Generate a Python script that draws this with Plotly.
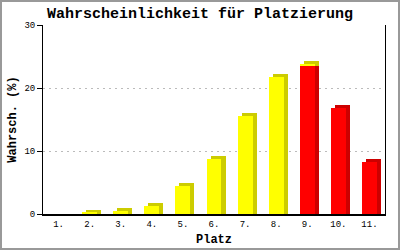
import plotly.graph_objects as go

# Data
plaetze = ["1.", "2.", "3.", "4.", "5.", "6.", "7.", "8.", "9.", "10.", "11."]
rot = [0, 0, 0, 0, 0, 0, 0, 0, 23.5, 16.8, 8.2]
gelb = [0, 0.2, 0.4, 1.2, 4.5, 8.8, 15.6, 21.8, 0.3, 0, 0]
y_ticks = [0, 10, 20, 30]

xs = list(range(1, len(plaetze) + 1))
W = 0.48          # bar width (data units)
DX = 0.13         # 3D depth offset x
DY = 0.48         # 3D depth offset y (%)

YEL, YEL_D = "#FFFF00", "#CCCC00"
RED, RED_D = "#FF0000", "#CC0000"

fig = go.Figure()

# 3D side/top faces (shadow bars)
fig.add_trace(go.Bar(
    x=[x + DX for x in xs], y=[r + DY if r > 0 else 0 for r in rot], base=0,
    width=W, marker=dict(color=RED_D, line=dict(width=0)), hoverinfo="skip", showlegend=False))
fig.add_trace(go.Bar(
    x=[x + DX for x in xs], y=[g + DY if g > 0 else 0 for g in gelb], base=rot,
    width=W, marker=dict(color=YEL_D, line=dict(width=0)), hoverinfo="skip", showlegend=False))
# front faces
fig.add_trace(go.Bar(
    x=xs, y=rot, base=0, width=W,
    marker=dict(color=RED, line=dict(width=0)), showlegend=False))
fig.add_trace(go.Bar(
    x=xs, y=gelb, base=rot, width=W,
    marker=dict(color=YEL, line=dict(width=0)), showlegend=False))

mono = "Liberation Mono, Courier New, monospace"

fig.update_layout(
    width=400, height=250,
    margin=dict(l=43, r=15, t=25, b=36),
    paper_bgcolor="white", plot_bgcolor="white",
    barmode="overlay", bargap=0,
    title=dict(text="<b>Wahrscheinlichkeit für Platzierung</b>",
               font=dict(family=mono, size=15, color="black"),
               x=0.5, xanchor="center", y=0.948, yanchor="middle"),
    xaxis=dict(range=[0.5, 11.5], tickvals=xs, ticktext=plaetze, automargin=False,
               showgrid=False, zeroline=False, showline=True, linecolor="black", linewidth=2,
               ticks="", tickfont=dict(family=mono, size=9, color="black"),
               title=dict(text="<b>Platz</b>", font=dict(family=mono, size=12, color="black"),
                          standoff=6), fixedrange=True),
    yaxis=dict(range=[0, 30], tickvals=y_ticks, automargin=False,
               showgrid=True, gridcolor="#BBBBBB", griddash="2px,4px", gridwidth=1,
               zeroline=False, showline=True, linecolor="black", linewidth=1, mirror=True,
               ticks="outside", ticklen=5, tickcolor="black",
               tickfont=dict(family=mono, size=9, color="black"),
               title=dict(text="<b>Wahrsch. (%)</b>", font=dict(family=mono, size=12, color="black"),
                          standoff=5), fixedrange=True),
    shapes=[dict(type="rect", xref="paper", yref="paper",
                 x0=-42 / 342, x1=1 + 14 / 342, y0=-35 / 189, y1=1 + 24 / 189,
                 line=dict(color="#999999", width=2), fillcolor="rgba(0,0,0,0)", layer="below")],
)

fig.write_html("out.html")
